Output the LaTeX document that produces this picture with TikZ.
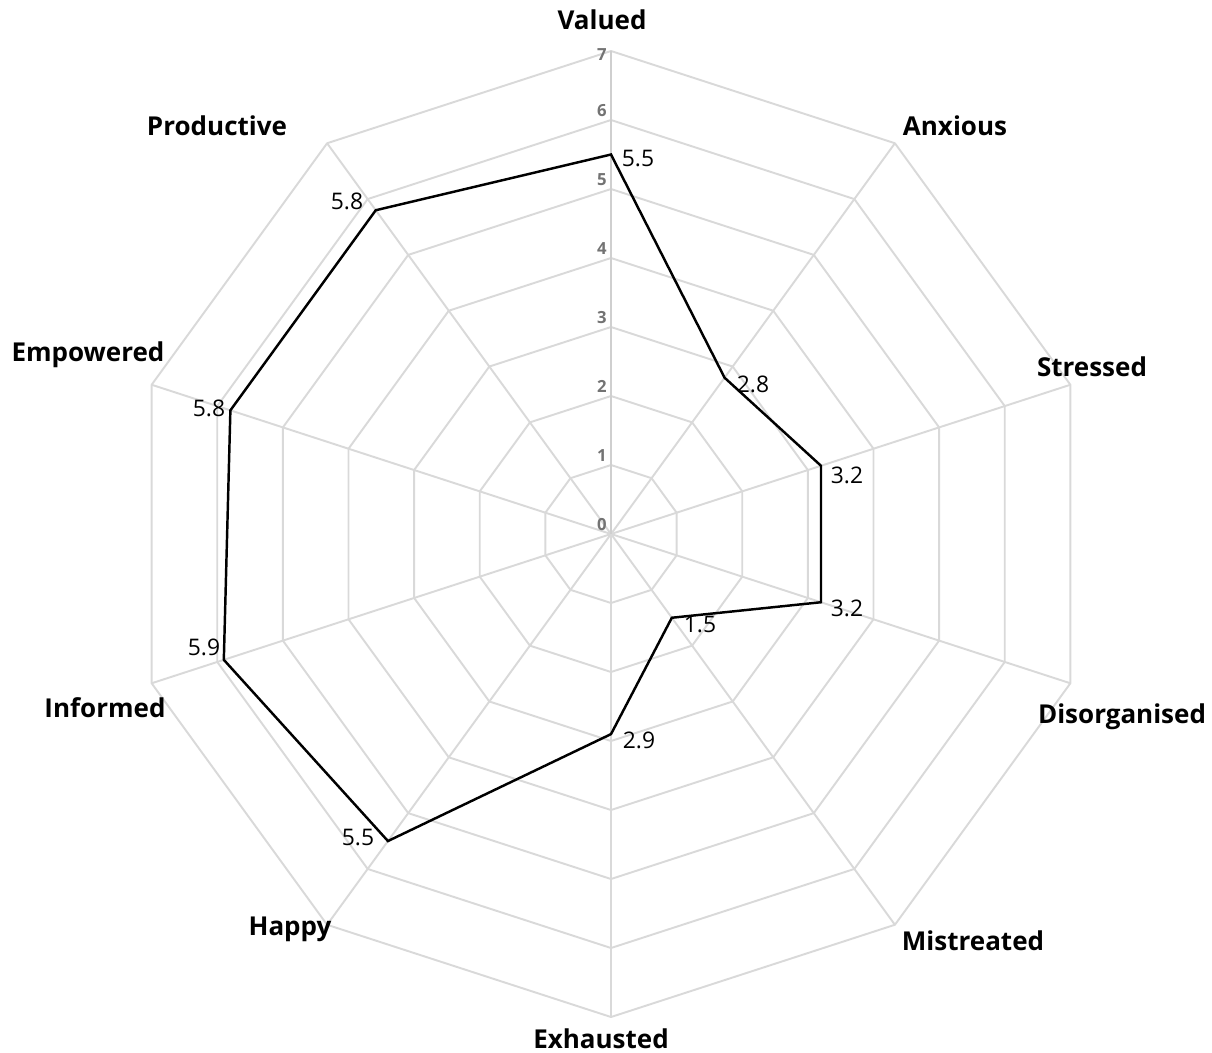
\documentclass[tikz,border=0pt]{standalone}
\usepackage{fontspec}
\setmainfont{Open Sans}
\usepackage{tikz}
\usetikzlibrary{positioning}
\tikzset{
    %Define style for the web
    web/.style={
           draw=black!15,
           line width=1.1pt,
           line join=round},
    spoke/.style={
           draw=black!15,
           line width=1.1pt},
    %Define style for the data line
    series/.style={
           draw=black,
           line width=1.4pt,
           line join=miter},
    %Define styles for texts
    axislabel/.style={
           anchor=base,
           inner sep=0pt,
           font=\fontsize{14.8}{16}\selectfont\bfseries},
    valuelabel/.style={
           anchor=base,
           inner sep=0pt,
           font=\fontsize{13}{14}\selectfont},
    ticklabel/.style={
           anchor=base east,
           inner sep=0pt,
           text=black!55,
           font=\fontsize{9.5}{10}\selectfont\bfseries}
}

\begin{document}
\begin{tikzpicture}[x=0.02cm,y=-0.02cm]
\useasboundingbox (0,0) rectangle (1212,1052);
 %web
\foreach \r in {1,...,7}
  \draw[web] (611,{534-69*\r}) \foreach \i in {1,...,9}{ -- ({611+69*\r*sin(36*\i)},{534-69*\r*cos(36*\i)}) } -- cycle;
\coordinate (c) at (611,534);
\foreach \i in {1,...,9}
  \coordinate (e\i) at ({611+483*sin(36*\i)},{534-483*cos(36*\i)});
\coordinate (e0) at (611,51);
\foreach \i in {1,...,9}
  \draw[spoke] (c) -- (e\i);
\draw[spoke, draw=black!19, line width=1.6pt] (c) -- (e0);
 %scale
\foreach \r in {0,...,6}
  \node[ticklabel] (t\r) at (607,{534-69*\r-4}) {\r};
\node[ticklabel] (t7) at (607,60) {7};
 %data
\foreach \v [count=\i from 0] in {5.5,2.8,3.2,3.2,1.5,2.9,5.5,5.9,5.8,5.8}
  \coordinate (p\i) at ({611+69*\v*sin(36*\i)},{534-69*\v*cos(36*\i)});
\draw[series] (p0) -- (p1) -- (p2) -- (p3) -- (p4) -- (p5) -- (p6) -- (p7) -- (p8) -- (p9) -- cycle;
 %values
\node[valuelabel] (v0) at (638,166) {5.5};
\node[valuelabel] (v1) at (753,392) {2.8};
\node[valuelabel] (v2) at (847,483) {3.2};
\node[valuelabel] (v3) at (847,616) {3.2};
\node[valuelabel] (v4) at (700,632) {1.5};
\node[valuelabel] (v5) at (639,748) {2.9};
\node[valuelabel] (v6) at (358,845) {5.5};
\node[valuelabel] (v7) at (204,655) {5.9};
\node[valuelabel] (v8) at (209,416) {5.8};
\node[valuelabel] (v9) at (347,209) {5.8};
 %axes
\node[axislabel] (valued) at (602,29) {Valued};
\node[axislabel] (anxious) at (955,135) {Anxious};
\node[axislabel] (stressed) at (1092,376) {Stressed};
\node[axislabel] (disorganised) at (1122,723) {Disorganised};
\node[axislabel] (mistreated) at (973,950) {Mistreated};
\node[axislabel] (exhausted) at (601,1048) {Exhausted};
\node[axislabel] (happy) at (290,935) {Happy};
\node[axislabel] (informed) at (105,717) {Informed};
\node[axislabel] (empowered) at (88,361) {Empowered};
\node[axislabel] (productive) at (217,135) {Productive};
\end{tikzpicture}
\end{document}
